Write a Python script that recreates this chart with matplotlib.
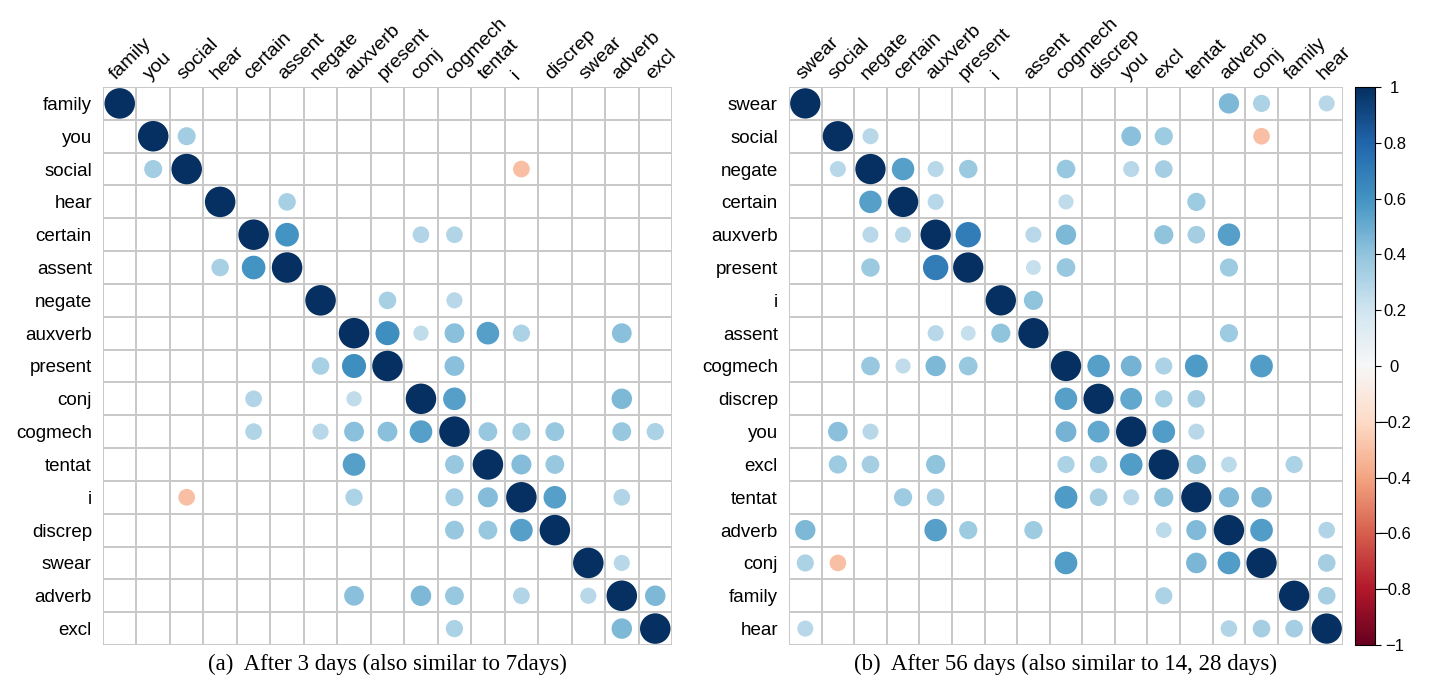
import numpy as np
import matplotlib
matplotlib.use('Agg')
import matplotlib.pyplot as plt
from matplotlib.colors import Normalize

# variable order of each panel
labels_a = ['family', 'you', 'social', 'hear', 'certain', 'assent', 'negate', 'auxverb',
            'present', 'conj', 'cogmech', 'tentat', 'i', 'discrep', 'swear', 'adverb', 'excl']
labels_b = ['swear', 'social', 'negate', 'certain', 'auxverb', 'present', 'i', 'assent',
            'cogmech', 'discrep', 'you', 'excl', 'tentat', 'adverb', 'conj', 'family', 'hear']

# off-diagonal correlations that are shown (others blank), diag = 1
pairs_a = [
    ('you', 'social', 0.35), ('social', 'i', -0.3), ('hear', 'assent', 0.33),
    ('certain', 'assent', 0.6), ('certain', 'conj', 0.3), ('certain', 'cogmech', 0.3),
    ('negate', 'present', 0.33), ('negate', 'cogmech', 0.28),
    ('auxverb', 'present', 0.62), ('auxverb', 'conj', 0.25), ('auxverb', 'cogmech', 0.42),
    ('auxverb', 'tentat', 0.55), ('auxverb', 'i', 0.32), ('auxverb', 'adverb', 0.42),
    ('present', 'cogmech', 0.42), ('conj', 'cogmech', 0.55), ('conj', 'adverb', 0.45),
    ('cogmech', 'tentat', 0.38), ('cogmech', 'i', 0.35), ('cogmech', 'discrep', 0.38),
    ('cogmech', 'adverb', 0.38), ('cogmech', 'excl', 0.32),
    ('tentat', 'i', 0.43), ('tentat', 'discrep', 0.38), ('i', 'discrep', 0.55),
    ('i', 'adverb', 0.3), ('swear', 'adverb', 0.28), ('adverb', 'excl', 0.45),
]
pairs_b = [
    ('swear', 'adverb', 0.45), ('swear', 'conj', 0.32), ('swear', 'hear', 0.28),
    ('social', 'negate', 0.28), ('social', 'you', 0.42), ('social', 'excl', 0.36),
    ('social', 'conj', -0.3),
    ('negate', 'certain', 0.55), ('negate', 'auxverb', 0.28), ('negate', 'present', 0.37),
    ('negate', 'cogmech', 0.38), ('negate', 'you', 0.28), ('negate', 'excl', 0.34),
    ('certain', 'auxverb', 0.28), ('certain', 'cogmech', 0.25), ('certain', 'tentat', 0.36),
    ('auxverb', 'present', 0.7), ('auxverb', 'assent', 0.28), ('auxverb', 'cogmech', 0.45),
    ('auxverb', 'excl', 0.4), ('auxverb', 'tentat', 0.34), ('auxverb', 'adverb', 0.55),
    ('present', 'assent', 0.24), ('present', 'cogmech', 0.38), ('present', 'adverb', 0.36),
    ('i', 'assent', 0.4), ('assent', 'adverb', 0.36),
    ('cogmech', 'discrep', 0.55), ('cogmech', 'you', 0.47), ('cogmech', 'excl', 0.32),
    ('cogmech', 'tentat', 0.57), ('cogmech', 'conj', 0.56),
    ('discrep', 'you', 0.52), ('discrep', 'excl', 0.33), ('discrep', 'tentat', 0.34),
    ('you', 'excl', 0.56), ('you', 'tentat', 0.28),
    ('excl', 'tentat', 0.4), ('excl', 'adverb', 0.27), ('excl', 'family', 0.32),
    ('tentat', 'adverb', 0.44), ('tentat', 'conj', 0.46),
    ('adverb', 'conj', 0.56), ('adverb', 'hear', 0.3),
    ('conj', 'hear', 0.34), ('family', 'hear', 0.34),
]
captions = ['(a)  After 3 days (also similar to 7days)',
            '(b)  After 56 days (also similar to 14, 28 days)']
cbar_ticks = [-1, -0.8, -0.6, -0.4, -0.2, 0, 0.2, 0.4, 0.6, 0.8, 1]


def build_matrix(labels, pairs):
    n = len(labels)
    m = np.eye(n)
    idx = {name: k for k, name in enumerate(labels)}
    for a, b, r in pairs:
        m[idx[a], idx[b]] = r
        m[idx[b], idx[a]] = r
    return m


def corrplot(ax, labels, pairs, caption):
    m = build_matrix(labels, pairs)
    n = len(labels)
    ax.set_xlim(-0.5, n - 0.5)
    ax.set_ylim(n - 0.5, -0.5)
    for k in range(n + 1):
        ax.axhline(k - 0.5, color='#c8c8c8', lw=1.4, zorder=1)
        ax.axvline(k - 0.5, color='#c8c8c8', lw=1.4, zorder=1)

    # cell size in points, to size the circles (area ~ |r|)
    fig = ax.figure
    bb = ax.get_position()
    cell_pts = min(bb.width * fig.get_figwidth(), bb.height * fig.get_figheight()) * 72 / n
    rows, cols = np.nonzero(m)
    vals = m[rows, cols]
    diam = 0.93 * cell_pts * np.sqrt(np.abs(vals))
    ax.scatter(cols, rows, s=diam ** 2, c=vals, cmap='RdBu', vmin=-1, vmax=1,
               linewidths=0, zorder=2)

    ax.set_xticks([])
    ax.set_yticks(range(n))
    ax.set_yticklabels(labels, fontsize=13.5)
    ax.tick_params(axis='y', length=0, pad=8)
    for j, name in enumerate(labels):
        ax.text(j - 0.1, -0.72, name, rotation=45, rotation_mode='anchor',
                ha='left', va='baseline', fontsize=14)
    for s in ax.spines.values():
        s.set_visible(False)
    ax.text(0.5, -0.035, caption, transform=ax.transAxes, ha='center', va='center',
            fontsize=16.5, family='Liberation Serif')


plt.rcParams['font.family'] = ['Liberation Sans', 'DejaVu Sans']

fig = plt.figure(figsize=(14.29, 6.82), dpi=100)
ax_a = fig.add_axes([103 / 1429, 1 - 645 / 682, 569 / 1429, 558 / 682])
ax_b = fig.add_axes([789 / 1429, 1 - 645 / 682, 554 / 1429, 558 / 682])
cax = fig.add_axes([1355 / 1429, 1 - 645 / 682, 20 / 1429, 558 / 682])

corrplot(ax_a, labels_a, pairs_a, captions[0])
corrplot(ax_b, labels_b, pairs_b, captions[1])

sm = plt.cm.ScalarMappable(norm=Normalize(-1, 1), cmap='RdBu')
cb = fig.colorbar(sm, cax=cax, ticks=cbar_ticks)
cb.ax.set_yticklabels([f'{t:g}'.replace('-', '\u2212') for t in cbar_ticks], fontsize=12)
cb.ax.tick_params(length=4, width=0.8, pad=10)
cb.outline.set_linewidth(0.8)
for t in cb.ax.get_yticklabels():
    t.set_ha('center')

fig.savefig('out.png', dpi=100)
